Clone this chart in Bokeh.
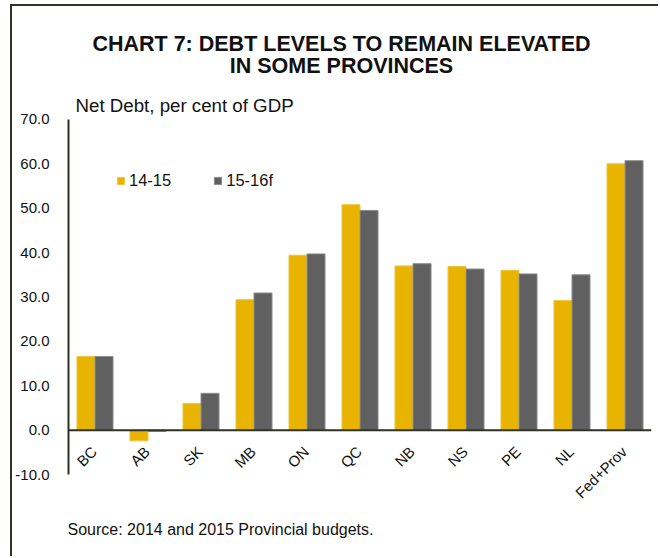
import math
from bokeh.plotting import figure
from bokeh.models import (FactorRange, Range1d, Label, Legend, LegendItem, Span,
                          FixedTicker, NumeralTickFormatter, ColumnDataSource)
from bokeh.core.properties import value
from bokeh.transform import dodge
from bokeh.embed import file_html
from bokeh.resources import INLINE

provinces = ["BC", "AB", "SK", "MB", "ON", "QC", "NB", "NS", "PE", "NL", "Fed+Prov"]
debt_14_15 = [16.6, -2.4, 6.0, 29.4, 39.4, 50.8, 37.0, 36.9, 36.0, 29.2, 60.0]
debt_15_16f = [16.6, -0.3, 8.3, 30.9, 39.7, 49.5, 37.5, 36.3, 35.2, 35.0, 60.7]
y_ticks = [-10, 0, 10, 20, 30, 40, 50, 60, 70]
series_names = ["14-15", "15-16f"]

GOLD = "#E8B400"
GREY = "#606060"
AXIS = "#2E3323"
TXT = "#111111"
FONT = "Liberation Sans"

# layout constant: where the rotated category labels are anchored (below zero)
LABEL_Y = -4.23

src = ColumnDataSource(dict(cat=provinces, a=debt_14_15, b=debt_15_16f,
                            laby=[LABEL_Y] * len(provinces)))

# frame spans the whole height; the visible axis is limited to -10..70
p = figure(width=648, height=552, output_backend="svg", toolbar_location=None,
           title=None, x_axis_location=None,
           x_range=FactorRange(*provinces, range_padding=0),
           y_range=Range1d(-28.9, 95.43),
           min_border_left=55, min_border_right=9, min_border_top=0,
           min_border_bottom=0)
p.margin = (4, 0, 0, 10)
p.styles = {"border-left": "2px solid #2E3323", "border-top": "2px solid #2E3323"}
p.outline_line_color = None
p.grid.grid_line_color = None
p.background_fill_color = "white"

r1 = p.vbar(x=dodge("cat", -0.17, range=p.x_range), top="a", bottom=0, width=0.34,
            source=src, fill_color=GOLD, line_color="#EEC640", line_width=1)
r2 = p.vbar(x=dodge("cat", 0.17, range=p.x_range), top="b", bottom=0, width=0.34,
            source=src, fill_color=GREY, line_color="#8C8C8C", line_width=1)

# y axis
p.yaxis.ticker = FixedTicker(ticks=y_ticks)
p.yaxis.bounds = (-10, 70)
p.yaxis.formatter = NumeralTickFormatter(format="0.0")
p.yaxis.major_tick_line_color = None
p.yaxis.minor_tick_line_color = None
p.yaxis.axis_line_color = AXIS
p.yaxis.axis_line_width = 2
p.yaxis.major_label_text_font = FONT
p.yaxis.major_label_text_font_size = "15px"
p.yaxis.major_label_text_color = TXT
p.yaxis.major_label_standoff = 13

# zero line acting as category axis
p.add_layout(Span(location=0, dimension="width", line_color=AXIS, line_width=2))

# rotated category labels, end-anchored just below the zero line
p.text(x=dodge("cat", -0.018, range=p.x_range), y="laby", text="cat", source=src,
       angle=math.pi / 4, text_align="right", text_baseline="middle",
       text_font=value(FONT), text_font_size="15px", text_color=TXT)

legend = Legend(items=[LegendItem(label=series_names[0], renderers=[r1]),
                       LegendItem(label=series_names[1], renderers=[r2])],
                orientation="horizontal", location=(48, 368),
                border_line_color=None, background_fill_alpha=0,
                label_text_font=FONT, label_text_font_size="16.5px",
                label_text_color=TXT, glyph_width=9, glyph_height=9,
                spacing=42, label_standoff=4, padding=0, margin=0)
p.add_layout(legend, "center")

def lab(text, x, y, size, bold=False, align="left"):
    p.add_layout(Label(text=text, x=x, y=y, x_units="screen", y_units="screen",
                       text_font=FONT, text_font_size=size, text_color=TXT,
                       text_font_style="bold" if bold else "normal",
                       text_align=align, text_baseline="alphabetic"))

lab("CHART 7: DEBT LEVELS TO REMAIN ELEVATED", 273, 515, "21.5px", True, "center")
lab("IN SOME PROVINCES", 273, 493, "21.5px", True, "center")
lab("Net Debt, per cent of GDP", 7, 453, "18.7px")
lab("Source: 2014 and 2015 Provincial budgets.", -1, 29, "16px")

open("out.html", "w").write(file_html(p, INLINE))
